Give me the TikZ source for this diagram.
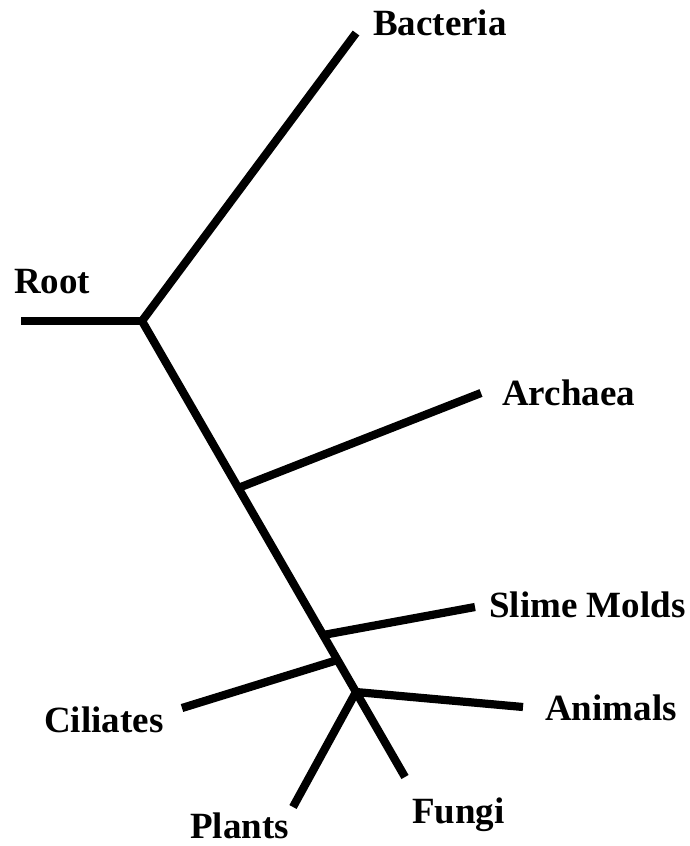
\documentclass[tikz,border=0pt]{standalone}
\usepackage{fontspec}
\setmainfont{Liberation Serif}
\usetikzlibrary{calc}
\begin{document}
\begin{tikzpicture}[x=1pt,y=-1pt,
  branch/.style={line width=8.2pt,line cap=butt,line join=miter},
  lbl/.style={anchor=base west,inner sep=0pt,font=\fontsize{37}{40}\selectfont\bfseries}]
\useasboundingbox (0,0) rectangle (689,846);
% trunk ends and junctions (on a straight trunk)
\coordinate (jroot) at (142,321);
\coordinate (efungi) at (405,777);
\coordinate (jarch) at ($(jroot)!0.3662!(efungi)$);
\coordinate (jslime) at ($(jroot)!0.6886!(efungi)$);
\coordinate (jcil) at ($(jroot)!0.7434!(efungi)$);
\coordinate (janim) at ($(jroot)!0.8136!(efungi)$);
% ends
\coordinate (eroot) at (21,321);
\coordinate (ebac) at (356,33);
\coordinate (earch) at (481,393);
\coordinate (eslime) at (475,607);
\coordinate (ecil) at (182,708);
\coordinate (eanim) at (523,707);
\coordinate (eplants) at (293,807);
% branches
\draw[branch] (eroot) -- (jroot);
\draw[branch] (jroot) -- (ebac);
\draw[branch] (jroot) -- (efungi);
\draw[branch] (jarch) -- (earch);
\draw[branch] (jslime) -- (eslime);
\draw[branch] (jcil) -- (ecil);
\draw[branch] (janim) -- (eanim);
\draw[branch] (janim) -- (eplants);
% labels
\node[lbl] (troot) at (14,293) {Root};
\node[lbl] (tbac) at (373,35) {Bacteria};
\node[lbl] (tarch) at (502,405) {Archaea};
\node[lbl] (tslime) at (489,617) {Slime Molds};
\node[lbl] (tanim) at (545,720) {Animals};
\node[lbl] (tcil) at (44,732) {Ciliates};
\node[lbl] (tfungi) at (412,823) {Fungi};
\node[lbl] (tplants) at (190,838) {Plants};
\end{tikzpicture}
\end{document}
